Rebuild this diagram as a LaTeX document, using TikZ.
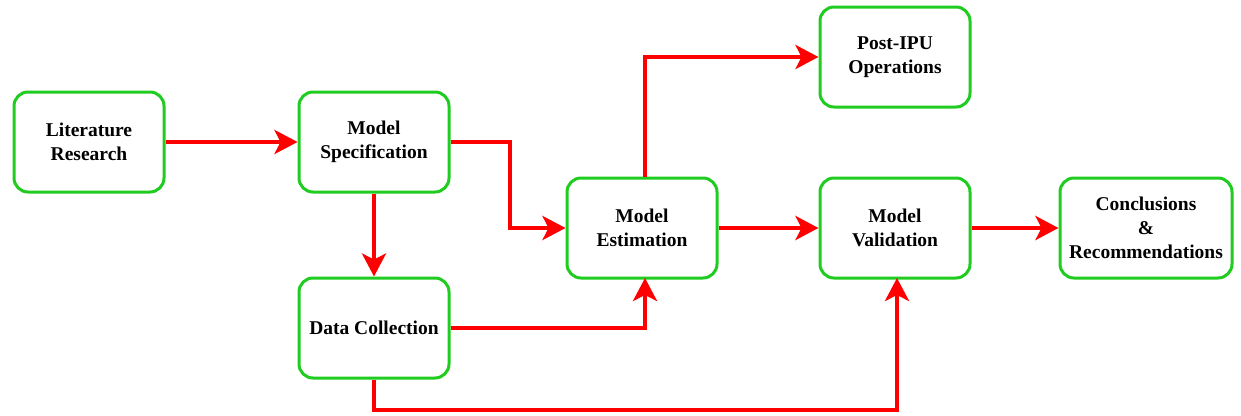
\documentclass[tikz,border=0pt]{standalone}
\usepackage{fontspec}
\setmainfont{Liberation Serif}
\usetikzlibrary{arrows.meta}
\definecolor{boxgreen}{HTML}{1FCC1F}
\definecolor{arrred}{HTML}{FF0000}
\begin{document}
\begin{tikzpicture}[x=1pt,y=-1pt,
  box/.style={draw=boxgreen,line width=3pt,rounded corners=14pt,fill=white,
    minimum width=150pt,minimum height=100pt,align=center,inner sep=2pt,
    font=\fontsize{19.5}{24}\selectfont\bfseries},
  conn/.style={draw=arrred,line width=4pt,-{Stealth[length=23pt,width=24pt,inset=6pt]}}]
\useasboundingbox (0,0) rectangle (1241,415);
\node[box] (lit) at (89,142) {Literature\\Research};
\node[box] (spec) at (374,142) {Model\\Specification};
\node[box] (data) at (374,328) {Data Collection};
\node[box] (est) at (642,228) {Model\\Estimation};
\node[box] (post) at (895,57) {Post-IPU\\Operations};
\node[box] (val) at (895,228) {Model\\Validation};
\node[box,minimum width=172pt] (conc) at (1146,228) {Conclusions\\\&\\Recommendations};
\coordinate (bl) at (374,410);
\draw[conn] (lit) -- (spec);
\draw[conn] (spec.east) -- (510,142) -- (510,228) -- (est.west);
\draw[conn] (spec) -- (data);
\draw[conn] (data.east) -- (645,328) -- (645,278);
\draw[conn] (data.south) -- (bl) -- (897,410) -- (897,278);
\draw[conn] (645,177) -- (645,57) -- (post.west);
\draw[conn] (est) -- (val);
\draw[conn] (val) -- (conc);
\end{tikzpicture}
\end{document}
